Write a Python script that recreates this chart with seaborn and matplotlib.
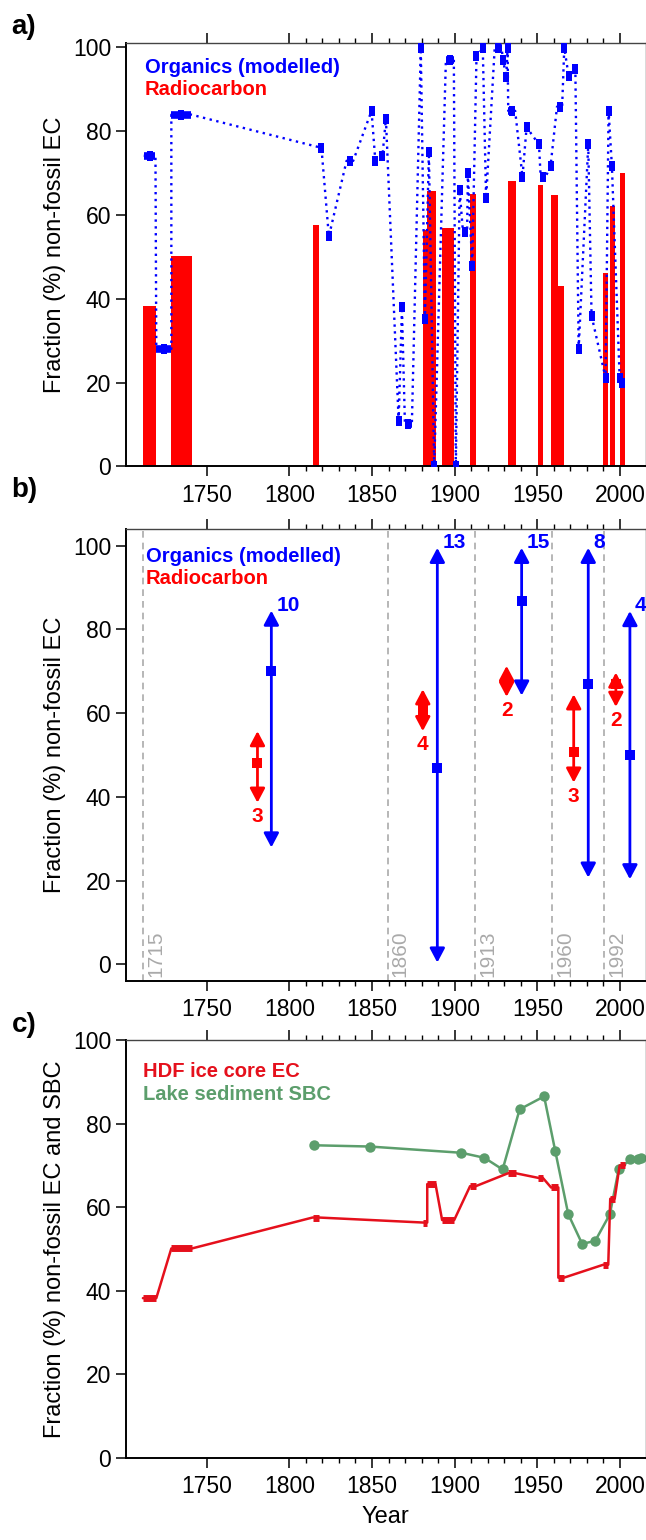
import numpy as np
import pandas as pd
import matplotlib
matplotlib.use("Agg")
import matplotlib.pyplot as plt
import seaborn as sns

# radiocarbon samples (HDF ice core EC): start year, end year, % non-fossil
rc_start = [1711.4, 1728.6, 1814.0, 1880.9, 1883.4, 1892.4, 1909.3, 1932.3, 1950.5, 1958.3, 1962.7, 1989.9, 1994.1, 1999.8]
rc_end = [1719.5, 1741.1, 1817.8, 1883.4, 1888.4, 1899.7, 1912.7, 1936.9, 1953.3, 1962.7, 1966.1, 1992.9, 1996.8, 2003.0]
rc_val = [38.2, 50.1, 57.5, 56.3, 65.5, 56.9, 65.0, 68.1, 67.0, 64.7, 43.1, 46.2, 62.0, 70.0]

# organics (modelled): start year, end year, % non-fossil
org_start = [1711.9, 1719.5, 1728.6, 1819.4, 1823.9, 1834.6, 1849.7, 1852.0, 1856.3, 1858.4,
             1866.1, 1868.1, 1869.9, 1879.5, 1882.0, 1884.4, 1887.6, 1894.7, 1900.7, 1903.0,
             1905.0, 1908.0, 1910.6, 1913.2, 1917.0, 1919.0, 1924.2, 1929.2, 1931.2, 1932.0,
             1932.4, 1941.0, 1943.5, 1951.0, 1952.0, 1958.0, 1961.9, 1966.3, 1969.0, 1973.0,
             1975.0, 1980.8, 1982.8, 1991.3, 1993.1, 1995.1, 1999.8, 2001.4]
org_end = [1719.0, 1728.6, 1740.7, 1819.4, 1823.9, 1838.6, 1849.7, 1852.0, 1856.3, 1858.4,
           1866.1, 1868.1, 1874.1, 1879.5, 1882.0, 1884.4, 1887.6, 1899.5, 1900.7, 1903.0,
           1907.5, 1908.0, 1910.6, 1913.2, 1917.0, 1919.0, 1928.4, 1929.2, 1931.2, 1932.0,
           1936.6, 1941.0, 1943.5, 1951.0, 1955.0, 1958.0, 1965.0, 1966.3, 1969.0, 1973.0,
           1975.0, 1980.8, 1982.8, 1991.3, 1993.1, 1995.1, 1999.8, 2001.4]
org_val = [74.0, 28.0, 83.8, 75.9, 54.8, 72.8, 84.7, 72.8, 73.9, 82.8,
           10.9, 37.9, 10.1, 99.6, 35.1, 74.8, 0.0, 96.9, 0.0, 65.9,
           55.9, 69.8, 47.8, 97.7, 99.6, 63.9, 99.6, 96.9, 92.7, 99.6,
           84.7, 69.0, 80.8, 76.7, 69.0, 71.6, 85.7, 99.7, 92.9, 94.7,
           28.0, 76.7, 35.9, 21.1, 84.7, 71.6, 21.1, 20.0]

# panel b: period summaries (mean, range, sample count)
org_bx = [1789.1, 1889.5, 1940.5, 1980.8, 2006.0]
org_bmean = [70.0, 47.0, 86.9, 66.9, 50.0]
org_blo = [27.9, 0.4, 64.2, 20.7, 20.3]
org_bhi = [84.5, 99.5, 99.5, 99.5, 84.4]
org_bn = ["10", "13", "15", "8", "4"]
rc_bx = [1780.7, 1880.7, 1931.4, 1972.0, 1997.5]
rc_bmean = [48.2, 60.7, 67.5, 50.8, 66.9]
rc_blo = [38.6, 55.7, 63.9, 43.4, 61.5]
rc_bhi = [55.7, 65.7, 71.3, 64.5, 69.7]
rc_bn = ["3", "4", "2", "3", "2"]
period_x = [1711.5, 1859.5, 1912.5, 1959.0, 1990.5]
period_lab = ["1715", "1860", "1913", "1960", "1992"]

# lake sediment SBC
sbc_year = [1814.8, 1848.5, 1904.1, 1918.0, 1929.0, 1939.3, 1954.1, 1960.8, 1968.7,
            1977.1, 1985.0, 1993.9, 1999.2, 2006.3, 2010.6, 2012.9]
sbc_val = [74.8, 74.5, 73.0, 71.8, 69.0, 83.4, 86.5, 73.5, 58.3,
           51.2, 51.9, 58.3, 69.0, 71.4, 71.5, 71.8]

major_years = [1750, 1800, 1850, 1900, 1950, 2000]
minor_years = [y for y in range(1810, 2000, 10) if y % 50 != 0]
y_ticks = [0, 20, 40, 60, 80, 100]

BLUE = "#0000ff"
RED = "#ff0000"
RED_C = "#e5101c"
GREEN = "#5c9e6c"

sns.set_style("ticks")
plt.rcParams["font.family"] = ["Liberation Sans", "DejaVu Sans"]
plt.rcParams["text.color"] = "black"
plt.rcParams["axes.labelcolor"] = "black"
plt.rcParams["xtick.color"] = "black"
plt.rcParams["ytick.color"] = "black"


def path_df(starts, ends, vals):
    xs, ys = [], []
    for s, e, v in zip(starts, ends, vals):
        xs += [s, e]
        ys += [v, v]
    return pd.DataFrame({"year": xs, "val": ys})


def style_axis(ax, ylim):
    ax.set_xlim(1701, 2015.5)
    ax.set_ylim(*ylim)
    ax.set_xticks(major_years)
    ax.set_xticks(minor_years, minor=True)
    ax.set_yticks(y_ticks)
    ax.tick_params(axis="x", which="major", direction="out", length=7.5, width=1.1,
                   top=True, labelsize=16.5, pad=5)
    ax.tick_params(axis="x", which="minor", direction="out", length=3.8, width=1.0, top=True)
    ax.tick_params(axis="y", direction="out", length=7.5, width=1.1, labelsize=16.5,
                   pad=3, right=False)
    for side in ["left", "bottom"]:
        ax.spines[side].set_linewidth(1.4)
        ax.spines[side].set_color("black")
    for side in ["top", "right"]:
        ax.spines[side].set_linewidth(1.0)
        ax.spines[side].set_color("#444444")
    ax.set_xlabel("")


fig = plt.figure(figsize=(6.46, 15.4), dpi=100)
L, W = 0.1946, 0.8048
ax_a = fig.add_axes([L, 0.69708, W, 0.27481])
ax_b = fig.add_axes([L, 0.36299, W, 0.29351])
ax_c = fig.add_axes([L, 0.05344, W, 0.27123])

# ---- a) ----
widths = np.array(rc_end) - np.array(rc_start)
ax_a.bar(rc_start, rc_val, width=widths, align="edge", color=RED, edgecolor="none", zorder=1)
org_df = path_df(org_start, org_end, org_val)
sns.lineplot(data=org_df, x="year", y="val", sort=False, estimator=None, ax=ax_a,
             color=BLUE, lw=1.7, linestyle=(0, (1, 1.9)), zorder=2)
ax_a.hlines(org_val, org_start, org_end, colors=BLUE, lw=5.5, zorder=3)
rect = [(-0.65, -1), (0.65, -1), (0.65, 1), (-0.65, 1)]
mid = (np.array(org_start) + np.array(org_end)) / 2
ax_a.scatter(mid, org_val, marker=rect, s=42, color=BLUE, lw=0, zorder=3)
style_axis(ax_a, (0, 100.8))
ax_a.set_ylabel("Fraction (%) non-fossil EC", fontsize=17)
ax_a.yaxis.set_label_coords(-0.114, 0.5)
ax_a.text(0.037, 0.9305, "Organics (modelled)", transform=ax_a.transAxes, color=BLUE,
          fontsize=14.5, fontweight="bold", va="baseline")
ax_a.text(0.037, 0.8778, "Radiocarbon", transform=ax_a.transAxes, color=RED,
          fontsize=14.5, fontweight="bold", va="baseline")

# ---- b) ----
for px, lab in zip(period_x, period_lab):
    ax_b.axvline(px, color="#aaaaaa", lw=1.2, linestyle=(0, (4, 3)), zorder=0)
    ax_b.text(px + 1.8, -3.0, lab, rotation=90, color="#aaaaaa", fontsize=15,
              ha="left", va="bottom")


def range_arrows(ax, xs, means, los, his, labels, color, above):
    for x, m, lo, hi, n in zip(xs, means, los, his, labels):
        ax.annotate("", xy=(x, hi), xytext=(x, lo),
                    arrowprops=dict(arrowstyle="<|-|>,head_length=0.85,head_width=0.45",
                                    color=color, lw=2, shrinkA=0, shrinkB=0,
                                    mutation_scale=10))
        if above:
            ax.text(x + 3, hi, n, color=color, fontsize=15, fontweight="bold",
                    ha="left", va="baseline")
        else:
            ax.text(x, lo - 1.0, n, color=color, fontsize=15, fontweight="bold",
                    ha="center", va="top")
    sns.scatterplot(x=xs, y=means, marker="s", s=45, color=color, lw=0, ax=ax, zorder=4)


range_arrows(ax_b, org_bx, org_bmean, org_blo, org_bhi, org_bn, BLUE, True)
range_arrows(ax_b, rc_bx, rc_bmean, rc_blo, rc_bhi, rc_bn, RED, False)
style_axis(ax_b, (-4, 104))
ax_b.set_ylabel("Fraction (%) non-fossil EC", fontsize=17)
ax_b.yaxis.set_label_coords(-0.114, 0.5)
ax_b.text(0.039, 0.9277, "Organics (modelled)", transform=ax_b.transAxes, color=BLUE,
          fontsize=14.5, fontweight="bold", va="baseline")
ax_b.text(0.039, 0.8776, "Radiocarbon", transform=ax_b.transAxes, color=RED,
          fontsize=14.5, fontweight="bold", va="baseline")

# ---- c) ----
rc_df = path_df(rc_start, rc_end, rc_val)
sns.lineplot(data=rc_df, x="year", y="val", sort=False, estimator=None, ax=ax_c,
             color=RED_C, lw=1.8, zorder=3)
ax_c.hlines(rc_val, rc_start, rc_end, colors=RED_C, lw=5, zorder=3)
sns.lineplot(x=sbc_year, y=sbc_val, ax=ax_c, color=GREEN, lw=1.8, marker="o",
             markersize=7.5, markeredgewidth=0, zorder=2)
style_axis(ax_c, (0, 100))
ax_c.set_ylabel("Fraction (%) non-fossil EC and SBC", fontsize=17)
ax_c.yaxis.set_label_coords(-0.114, 0.5)
ax_c.set_xlabel("Year", fontsize=17, labelpad=6)
ax_c.text(0.034, 0.912, "HDF ice core EC", transform=ax_c.transAxes, color=RED_C,
          fontsize=14.5, fontweight="bold", va="baseline")
ax_c.text(0.034, 0.856, "Lake sediment SBC", transform=ax_c.transAxes, color=GREEN,
          fontsize=14.5, fontweight="bold", va="baseline")

for lab, ytop in [("a)", 14), ("b)", 477), ("c)", 1012)]:
    fig.text(0.018, 1 - ytop / 1540, lab, fontsize=20, fontweight="bold", va="top", ha="left")

fig.savefig("out.png", dpi=100)
